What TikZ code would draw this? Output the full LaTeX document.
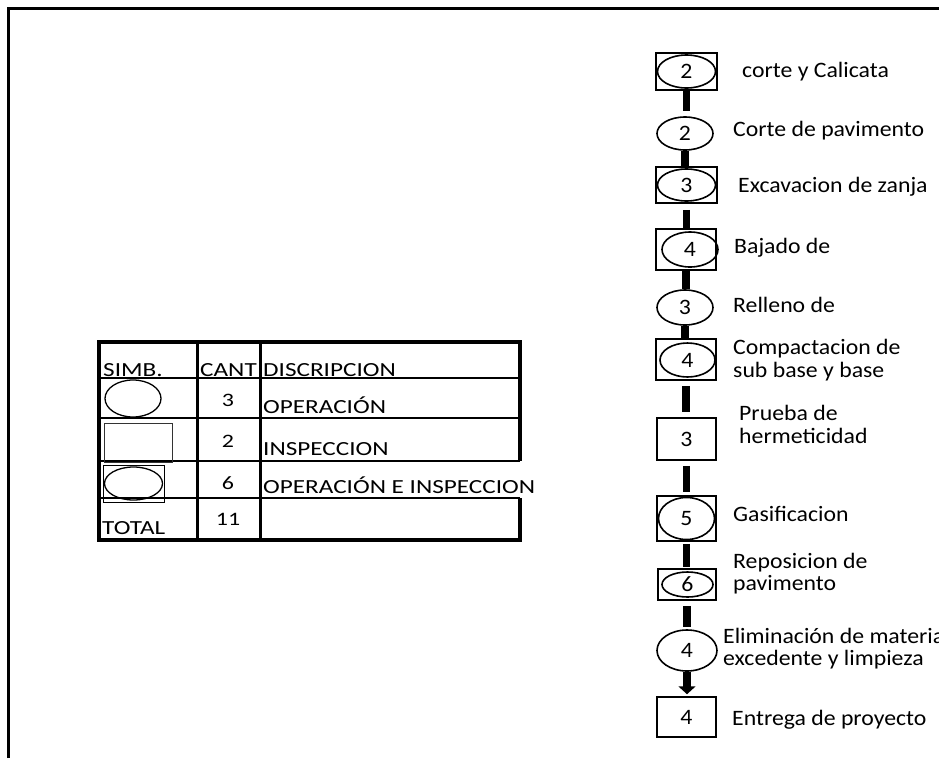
\documentclass[tikz,border=0pt]{standalone}
\usepackage{fontspec}
\usetikzlibrary{arrows.meta,shapes.geometric}
\newfontfamily\flowfont[FakeStretch=1.08]{Carlito}
\newfontfamily\tabfont[FakeStretch=1.26]{Carlito}
\newcommand\flownum{\flowfont\fontsize{22}{26}\selectfont}
\newcommand\flowlbl{\flowfont\fontsize{22}{26}\selectfont}
\newcommand\tabtxt{\tabfont\fontsize{20}{24}\selectfont}
\newcommand\tabnum{\tabfont\fontsize{19}{22}\selectfont}

\begin{document}
\begin{tikzpicture}[x=1pt,y=-1pt,
    box/.style 2 args={draw, line width=1.5pt, rectangle, inner sep=0pt,
      minimum width=#1pt, minimum height=#2pt, font=\flownum},
    oval/.style 2 args={draw, line width=1.6pt, ellipse, inner sep=0pt,
      minimum width=#1pt, minimum height=#2pt, font=\flownum},
    lbl/.style={anchor=base west, inner sep=0pt, font=\flowlbl},
    link/.style={line width=7.5pt},
    cell/.style={anchor=base west, inner sep=0pt, font=\tabtxt},
    cnt/.style={anchor=base, inner sep=0pt, font=\tabnum}]
        \useasboundingbox (0,0) rectangle (939,758);
        \clip (0,0) rectangle (939,758);

        % frame
        \draw[line width=3pt] (8.5,758) -- (8.5,8.5) -- (939,8.5);

        % flow column
        \node[box={61}{37}] (b1) at (686.5,71.5) {};
        \node[oval={58}{33}] (e1) at (686.5,71.5) {2};
        \node[oval={56}{33}] (e2) at (685,133.5) {2};
        \node[box={61}{36}] (b3) at (686.5,185) {};
        \node[oval={58}{32}] (e3) at (686.5,185) {3};
        \node[box={60}{41}] (b4) at (686,249.5) {};
        \node[oval={56}{35}] (e4) at (690,249.5) {4};
        \node[oval={56}{35}] (e5) at (685,307.5) {3};
        \node[box={60}{41}] (b6) at (686,359.5) {};
        \node[oval={55}{34}] (e6) at (687.5,360) {4};
        \node[box={59}{42}] (b7) at (686.5,439) {3};
        \node[box={59}{45}] (b8) at (686.5,518.5) {};
        \node[oval={56}{42}] (e8) at (686.5,518.5) {5};
        \node[box={58}{31}] (b9) at (687,584.5) {};
        \node[oval={51}{25}] (e9) at (687.5,584.5) {6};
        \node[oval={60}{41}] (e10) at (687,650.5) {4};
        \node[box={59}{40}] (b11) at (686.5,717) {4};

        \foreach \a/\b/\s/\e in {b1/e2/0/5, e2/b3/0/0, b3/b4/6/0, b4/e5/0/0, e5/b6/0/0,
                                 b6/b7/5/5, b7/b8/5/3, b8/b9/2/1, b9/e10/5/2} {
          \draw[link, shorten <=\s pt, shorten >=\e pt] (\a.south) -- (\a.south |- \b.north);
        }
        \draw[link, -{Triangle[width=17pt,length=8pt]}, shorten >=2pt] (e10.south) -- (e10.south |- b11.north);

        \node[lbl] (t1) at (742,77) {corte y Calicata};
        \node[lbl] (t2) at (733,136) {Corte de pavimento};
        \node[lbl] (t3) at (738,192) {Excavacion de zanja};
        \node[lbl] (t4) at (734,253) {Bajado de};
        \node[lbl] (t5) at (733,312) {Relleno de};
        \node[lbl] (t6a) at (733,354) {Compactacion de};
        \node[lbl] (t6b) at (733,377) {sub base y base};
        \node[lbl] (t7a) at (739,420) {Prueba de};
        \node[lbl] (t7b) at (739,443) {hermeticidad};
        \node[lbl] (t8) at (733,521) {Gasificacion};
        \node[lbl] (t9a) at (733,568) {Reposicion de};
        \node[lbl] (t9b) at (733,590) {pavimento};
        \node[lbl] (t10a) at (723,643) {Eliminación de material};
        \node[lbl] (t10b) at (723,665) {excedente y limpieza};
        \node[lbl] (t11) at (732,725) {Entrega de proyecto};

        % summary table
        \draw[line width=3.5pt] (520,461) -- (520,342) -- (99,342) -- (99,540) -- (520,540) -- (520,498);
        \foreach \x in {197,260} {
          \draw[line width=3pt] (\x,342) -- (\x,540);
        }
        \foreach \y in {378,418,461,498} {
          \draw[line width=2pt] (99,\y) -- (520,\y);
        }
        \node[draw, line width=1.3pt, ellipse, minimum width=56pt, minimum height=37pt] (s1) at (133,398.5) {};
        \node[draw=black!80, line width=1pt, rectangle, minimum width=68pt, minimum height=39pt] (s2) at (138,442.5) {};
        \node[draw, line width=1pt, rectangle, minimum width=61pt, minimum height=37pt] (s3) at (133.5,483.5) {};
        \node[draw, line width=1.3pt, ellipse, minimum width=58pt, minimum height=33pt] (s3e) at (133.5,483.5) {};

        \node[cell] (h1) at (103,376) {SIMB.};
        \node[cell] (h2) at (200,376) {CANT};
        \node[cell] (h3) at (263,376) {DISCRIPCION};
        \node[cnt] (c1) at (228,406) {3};
        \node[cnt] (c2) at (228,447) {2};
        \node[cnt] (c3) at (228,489) {6};
        \node[cnt] (c4) at (228,525) {11};
        \node[cell] (d1) at (263,413) {OPERACIÓN};
        \node[cell] (d2) at (263,455) {INSPECCION};
        \node[cell] (d3) at (263,493) {OPERACIÓN E INSPECCION};
        \node[cell] (d4) at (102,534) {TOTAL};
      \end{tikzpicture}
\end{document}
